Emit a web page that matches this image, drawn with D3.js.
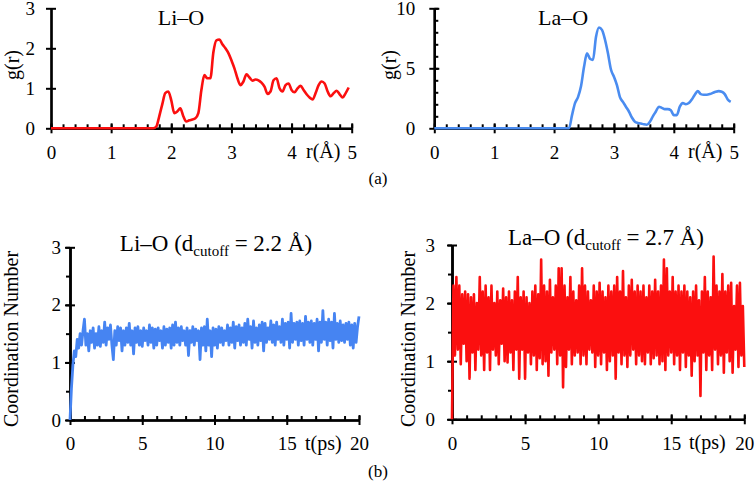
<!DOCTYPE html>
<html><head><meta charset="utf-8">
<script src="https://cdn.jsdelivr.net/npm/d3@7"></script>
<style>
body{margin:0;background:#fff}
svg{display:block}
text{font-family:"Liberation Serif","Times New Roman",serif;fill:#000}
</style>
</head><body>
<svg id="c" width="756" height="482"></svg>
<script>
// ---------- DATA ----------
// Li–O g(r): r sampled at 0 and every 0.05 Å from 1.70 to 4.95
const liR = [0].concat(d3.range(1.70, 4.951, 0.05));
const liG = [0, 0, 0.04, 0.3, 0.6, 0.88, 0.92, 0.7, 0.38, 0.42, 0.5, 0.3, 0.17, 0.2, 0.22, 0.25, 0.38,
  0.95, 1.33, 1.25, 1.25, 1.9, 2.2, 2.22, 2.1, 2.0, 1.88, 1.7, 1.5, 1.25, 1.08, 1.17, 1.35, 1.27, 1.19,
  1.22, 1.2, 1.14, 1.04, 0.86, 0.92, 1.2, 1.25, 1.0, 0.92, 1.08, 1.12, 0.96, 0.9, 1.0, 1.06, 0.96, 0.85,
  0.77, 0.72, 0.88, 1.08, 1.17, 1.12, 0.92, 0.8, 0.88, 0.94, 0.85, 0.77, 0.88, 1.02];
// La–O g(r): r sampled at 0 and every 0.05 Å from 2.25 to 4.95
const laR = [0].concat(d3.range(2.25, 4.951, 0.05));
const laG = [0, 0, 1.1, 2.1, 2.6, 3.5, 5.1, 6.25, 5.8, 5.7, 7.6, 8.4, 8.2, 7.4, 6.25, 4.9, 4.3, 3.6, 2.6,
  2.2, 1.8, 1.4, 0.9, 0.55, 0.45, 0.4, 0.33, 0.3, 0.55, 1.0, 1.4, 1.8, 1.7, 1.6, 1.6, 1.5, 1.1, 1.1, 1.8,
  2.1, 2.0, 2.1, 2.4, 2.8, 3.1, 2.85, 2.8, 2.8, 2.85, 2.95, 3.05, 3.1, 3.05, 2.85, 2.4, 2.2];

// Coordination number vs time, sampled every 0.1 ps from 0 to 20 ps
const tGrid = d3.range(0, 20.001, 0.1);
const liCN = [
  0, 0.55, 0.95, 1.2, 1.1, 1.4, 1.25, 1.5, 1.3, 1.55,
  1.75, 1.3, 1.5, 1.2, 1.55, 1.35, 1.6, 1.25, 1.5, 1.3,
  1.62, 1.28, 1.55, 1.35, 1.7, 1.3, 1.6, 1.4, 1.65, 1.3,
  1.05, 1.55, 1.3, 1.62, 1.38, 1.6, 1.2, 1.55, 1.3, 1.6,
  1.35, 1.68, 1.3, 1.55, 1.15, 1.6, 1.35, 1.62, 1.3, 1.55,
  1.28, 1.6, 1.38, 1.55, 1.3, 1.65, 1.35, 1.6, 1.25, 1.58,
  1.3, 1.6, 1.38, 1.55, 1.25, 1.62, 1.3, 1.58, 1.35, 1.6,
  1.25, 1.65, 1.3, 1.7, 1.35, 1.6, 1.3, 1.62, 1.38, 1.55,
  1.3, 1.6, 1.12, 1.55, 1.35, 1.62, 1.3, 1.58, 1.38, 1.55,
  1.05, 1.6, 1.3, 1.62, 1.2, 1.75, 1.3, 1.55, 1.1, 1.6,
  1.3, 1.58, 1.25, 1.62, 1.35, 1.6, 1.3, 1.55, 1.38, 1.65,
  1.3, 1.6, 1.35, 1.7, 1.25, 1.62, 1.38, 1.65, 1.3, 1.6,
  1.35, 1.68, 1.3, 1.75, 1.4, 1.62, 1.25, 1.72, 1.35, 1.6,
  1.3, 1.65, 1.38, 1.7, 1.2, 1.68, 1.35, 1.6, 1.4, 1.72,
  1.35, 1.65, 1.3, 1.7, 1.4, 1.62, 1.35, 1.75, 1.3, 1.68,
  1.4, 1.7, 1.25, 1.85, 1.35, 1.68, 1.4, 1.7, 1.3, 1.72,
  1.38, 1.68, 1.3, 1.8, 1.4, 1.7, 1.35, 1.72, 1.3, 1.68,
  1.4, 1.75, 1.2, 1.7, 1.35, 1.9, 1.4, 1.7, 1.3, 1.75,
  1.38, 1.7, 1.25, 1.85, 1.4, 1.68, 1.35, 1.72, 1.38, 1.65,
  1.35, 1.68, 1.4, 1.7, 1.3, 1.65, 1.25, 1.68, 1.35, 1.62,
  1.8];
const laCN = [
  0, 2.3, 1.1, 2.45, 1.2, 2.3, 0.95, 2.15, 1.3, 2.2,
  1.0, 2.15, 0.7, 2.1, 1.15, 2.15, 0.85, 2.0, 1.2, 2.45,
  1.1, 2.2, 0.85, 2.3, 1.15, 2.1, 0.85, 2.3, 1.2, 2.0,
  1.1, 2.2, 0.95, 2.05, 1.3, 2.25, 1.0, 2.1, 0.98, 2.2,
  1.15, 2.05, 0.85, 2.2, 1.2, 2.45, 0.7, 2.1, 1.2, 2.2,
  0.7, 2.1, 1.15, 2.0, 0.95, 2.2, 1.1, 2.3, 0.85, 2.15,
  1.05, 2.75, 0.95, 2.3, 1.0, 2.2, 0.75, 2.4, 1.15, 2.1,
  1.2, 2.3, 0.95, 2.6, 1.1, 2.6, 0.55, 2.3, 0.9, 2.1,
  1.2, 2.45, 0.95, 2.2, 1.1, 2.05, 1.15, 2.3, 0.95, 2.6,
  1.1, 2.3, 0.95, 2.2, 1.2, 2.05, 1.15, 2.3, 0.9, 2.2,
  1.1, 2.35, 0.95, 2.2, 1.15, 2.1, 0.85, 2.3, 1.0, 2.2,
  1.1, 2.3, 0.7, 2.45, 1.15, 2.2, 0.95, 2.55, 1.1, 2.1,
  0.9, 2.3, 1.1, 2.4, 1.2, 2.2, 0.95, 2.3, 1.1, 2.2,
  1.0, 2.3, 0.95, 2.1, 1.15, 2.3, 0.95, 2.2, 1.05, 2.4,
  1.1, 2.2, 0.95, 2.3, 1.0, 2.75, 0.85, 2.6, 1.1, 2.2,
  1.15, 2.45, 0.95, 2.2, 1.1, 2.3, 0.85, 2.2, 1.15, 2.3,
  0.9, 2.2, 1.1, 2.1, 0.75, 2.2, 1.0, 2.3, 1.1, 2.05,
  0.4, 2.2, 1.15, 2.45, 0.85, 2.2, 1.1, 2.1, 0.85, 2.8,
  1.2, 2.3, 0.95, 2.2, 1.1, 2.5, 0.8, 2.2, 1.15, 2.3,
  1.0, 2.35, 0.8, 1.95, 1.2, 2.3, 0.9, 2.35, 1.1, 1.95,
  0.9];

// tick values
const grXMajor = [0, 1, 2, 3, 4, 5];
const grXMinor = d3.range(0, 5.001, 0.2);
const liYMajor = [0, 1, 2, 3];
const laYMajor = [0, 5, 10];
const laYMinor = d3.range(0, 10.001, 1);
const tMajor = [0, 5, 10, 15, 20];
const tMinor = d3.range(0, 20.001, 1);
const cnYMajor = [0, 1, 2, 3];
const cnYMinor = d3.range(0, 3.001, 0.5);

const RED = "#fb0f0f", BLUE_GR = "#4a8cf0", BLUE_CN = "#4684f2";

// ---------- DRAW ----------
const svg = d3.select("#c");

function panel(o) {
  const x = d3.scaleLinear().domain(o.xd).range([o.left, o.right]);
  const y = d3.scaleLinear().domain(o.yd).range([o.bottom, o.top]);
  const g = svg.append("g");

  const style = sel => {
    sel.attr("font-family", null).attr("font-size", null);
    sel.selectAll("path.domain").attr("stroke", "#000").attr("stroke-width", 2.2);
    sel.selectAll(".tick line").attr("stroke", "#000").attr("stroke-width", 2);
    sel.selectAll(".tick text").style("font-size", "19px").attr("fill", "#000");
  };

  // x axis: major ticks down + labels, major+minor ticks up
  g.append("g").attr("transform", `translate(0,${o.bottom})`)
    .call(d3.axisTop(x).tickValues(o.xMinor).tickSize(4).tickSizeOuter(0).tickFormat(""))
    .call(style);
  g.append("g").attr("transform", `translate(0,${o.bottom})`)
    .call(d3.axisTop(x).tickValues(o.xMajor).tickSize(5).tickSizeOuter(0).tickFormat(""))
    .call(style);
  g.append("g").attr("transform", `translate(0,${o.bottom})`)
    .call(d3.axisBottom(x).tickValues(o.xMajor).tickSize(5).tickSizeOuter(0).tickPadding(12).tickFormat(d3.format("d")))
    .call(style);

  // y axis
  if (o.yMinor) {
    const ax = o.yMinorSide === "right" ? d3.axisRight(y) : d3.axisLeft(y);
    g.append("g").attr("transform", `translate(${o.left},0)`)
      .call(ax.tickValues(o.yMinor).tickSize(4).tickSizeOuter(0).tickFormat(""))
      .call(style);
  }
  g.append("g").attr("transform", `translate(${o.left},0)`)
    .call(d3.axisRight(y).tickValues(o.yMajor).tickSize(5).tickSizeOuter(0).tickFormat(""))
    .call(style);
  g.append("g").attr("transform", `translate(${o.left},0)`)
    .call(d3.axisLeft(y).tickValues(o.yMajor).tickSize(5).tickSizeOuter(0).tickPadding(o.yPad).tickFormat(d3.format("d")))
    .call(style);

  // data line
  const line = d3.line().x(d => x(d[0])).y(d => y(d[1])).curve(o.curve || d3.curveLinear);
  g.append("path").datum(d3.zip(o.xs, o.ys))
    .attr("d", line).attr("fill", "none")
    .attr("stroke", o.color).attr("stroke-width", o.lw).attr("stroke-linejoin", "round");

  // labels
  g.append("text").attr("transform", `translate(${o.ylabX},${o.ylabY}) rotate(-90)`)
    .attr("text-anchor", "middle").style("font-size", "20px").text(o.ylab);
  g.append("text").attr("x", o.xlabX).attr("y", o.bottom + 30)
    .style("font-size", "20px").text(o.xlab);
  return {x, y, g};
}

// (top-left) Li–O g(r)
panel({left: 51, right: 351.7, top: 8.3, bottom: 128.3, xd: [0, 5], yd: [0, 3],
  xMajor: grXMajor, xMinor: grXMinor, yMajor: liYMajor, yPad: 11,
  xs: liR, ys: liG, color: RED, lw: 2.6, curve: d3.curveMonotoneX,
  ylab: "g(r)", ylabX: 19, ylabY: 65, xlab: "r(Å)", xlabX: 306});
// (top-right) La–O g(r)
panel({left: 434.3, right: 733.7, top: 8.3, bottom: 128.3, xd: [0, 5], yd: [0, 10],
  xMajor: grXMajor, xMinor: grXMinor, yMajor: laYMajor, yMinor: laYMinor, yMinorSide: "right", yPad: 14,
  xs: laR, ys: laG, color: BLUE_GR, lw: 2.6, curve: d3.curveMonotoneX,
  ylab: "g(r)", ylabX: 396, ylabY: 65, xlab: "r(Å)", xlabX: 688});
// (bottom-left) Li–O CN
panel({left: 70, right: 359, top: 247.3, bottom: 420, xd: [0, 20], yd: [0, 3],
  xMajor: tMajor, xMinor: tMinor, yMajor: cnYMajor, yMinor: cnYMinor, yMinorSide: "left", yPad: 4,
  xs: tGrid, ys: liCN, color: BLUE_CN, lw: 2.8,
  ylab: "Coordination Number", ylabX: 17.5, ylabY: 339, xlab: "t(ps)", xlabX: 305});
// (bottom-right) La–O CN
panel({left: 452, right: 744.3, top: 245, bottom: 419.3, xd: [0, 20], yd: [0, 3],
  xMajor: tMajor, xMinor: tMinor, yMajor: cnYMajor, yMinor: cnYMinor, yMinorSide: "left", yPad: 12,
  xs: tGrid, ys: laCN, color: RED, lw: 2.6,
  ylab: "Coordination Number", ylabX: 415, ylabY: 339, xlab: "t(ps)", xlabX: 689});

// titles
svg.append("text").attr("x", 181).attr("y", 25).attr("text-anchor", "middle").style("font-size", "22px").text("Li–O");
svg.append("text").attr("x", 563).attr("y", 25).attr("text-anchor", "middle").style("font-size", "22px").text("La–O");

function subTitle(cx, by, pre, post) {
  const t = svg.append("text").attr("x", cx).attr("y", by).attr("text-anchor", "middle").style("font-size", "23px");
  t.append("tspan").text(pre + " (d");
  t.append("tspan").style("font-size", "15px").attr("dy", 5).text("cutoff");
  t.append("tspan").attr("dy", -5).text(" = " + post + " Å)");
}
subTitle(216, 251, "Li–O", "2.2");
subTitle(606, 245, "La–O", "2.7");

// panel letters
svg.append("text").attr("x", 378).attr("y", 184).attr("text-anchor", "middle").style("font-size", "17px").text("(a)");
svg.append("text").attr("x", 378).attr("y", 477).attr("text-anchor", "middle").style("font-size", "17px").text("(b)");
</script>
</body></html>
